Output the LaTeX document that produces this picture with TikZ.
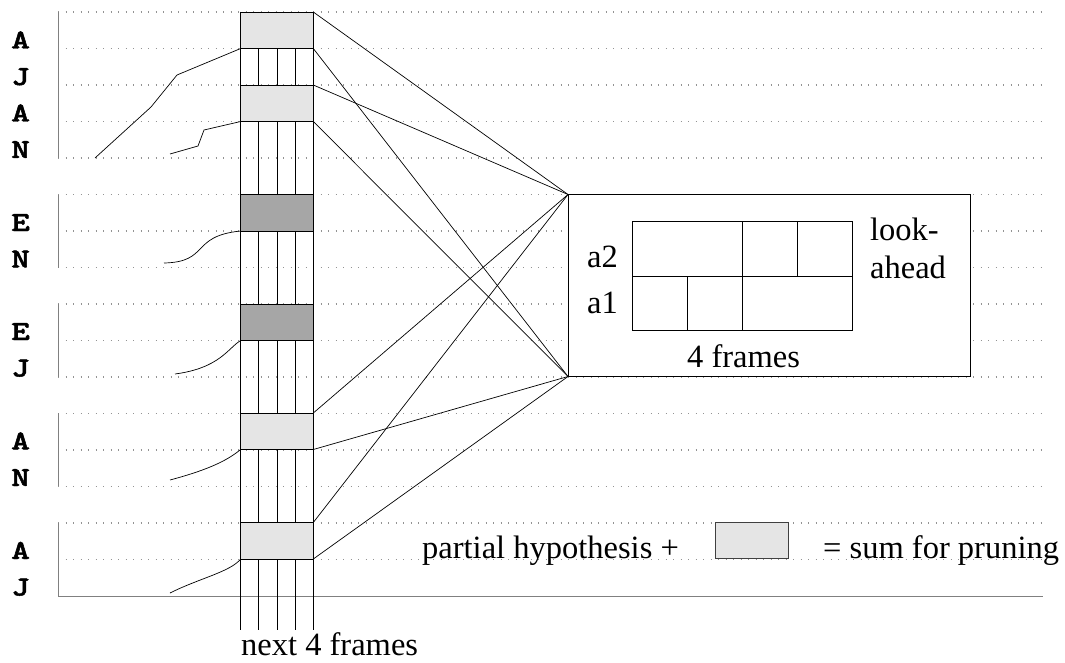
\documentclass[tikz,border=0pt]{standalone}
\usepackage{graphicx}
\usepackage{fontspec}
\setmainfont{Liberation Serif}
\newfontfamily\courfont{lmmonolt10-bold.otf}[FakeBold=1.5]
\definecolor{lightg}{HTML}{E5E5E5}
\definecolor{darkg}{HTML}{A6A6A6}
\newcommand{\letr}[1]{\scalebox{1.3}[1]{#1}}
\begin{document}
\begin{tikzpicture}[x=1bp,y=-1bp,
  dotl/.style={gray!85, line width=1.1bp, dash pattern=on 1.1bp off 6.4bp},
  grpl/.style={gray, line width=1bp},
  coll/.style={black, line width=0.8bp},
  cell/.style={draw=black, line width=0.8bp, minimum width=72.6bp, minimum height=36.5bp, inner sep=0pt, outer sep=0pt, anchor=north west},
  lite/.style={cell, fill=lightg},
  dark/.style={cell, fill=darkg},
  lett/.style={font=\courfont\fontsize{27.5bp}{30bp}\selectfont, anchor=base west, inner sep=0pt},
  serif/.style={font=\fontsize{32.5bp}{36bp}\selectfont, inner sep=0pt, anchor=base west},
  conn/.style={black, line width=0.7bp},
  hyp/.style={black, line width=0.7bp}
]
\useasboundingbox (0,0) rectangle (1065,663);
% row lines
\foreach \i in {0,...,15} \draw[dotl] (58,12+36.5*\i) -- (1043,12+36.5*\i);
\draw[grpl] (58,596) -- (1043,596);
% group brackets
\draw[grpl] (58,12) -- (58,158);
\draw[grpl] (58,194.5) -- (58,267.5);
\draw[grpl] (58,304) -- (58,376.5);
\draw[grpl] (58,413) -- (58,486);
\draw[grpl] (58,522.5) -- (58,596);
% column of next 4 frames
\foreach \x in {240.7,258.85,277,295.15,313.3} \draw[coll] (\x,12) -- (\x,630);
\node[lite] (b1) at (240.7,12) {};
\node[lite] (b2) at (240.7,85) {};
\node[dark] (b3) at (240.7,194.5) {};
\node[dark] (b4) at (240.7,304) {};
\node[lite] (b5) at (240.7,413) {};
\node[lite] (b6) at (240.7,522.5) {};
% look-ahead box
\node[draw=black, fill=white, line width=0.8bp, minimum width=402bp, minimum height=182bp, inner sep=0pt, outer sep=0pt, anchor=north west] (la) at (568,194.5) {};
% connectors
\draw[conn] (b1.north east) -- (la.north west);
\draw[conn] (b1.south east) -- (la.south west);
\draw[conn] (b2.north east) -- (la.north west);
\draw[conn] (b2.south east) -- (la.south west);
\draw[conn] (b5.north east) -- (la.north west);
\draw[conn] (b5.south east) -- (la.south west);
\draw[conn] (b6.north east) -- (la.north west);
\draw[conn] (b6.south east) -- (la.south west);
% inner grid
\draw[coll] (632,221.7) rectangle (852,330.7);
\draw[coll] (632,276) -- (852,276);
\draw[coll] (742,221.7) -- (742,330.7);
\draw[coll] (797,221.7) -- (797,276);
\draw[coll] (687,276) -- (687,330.7);
% texts in box
\node[serif] (a2) at (587,267) {a2};
\node[serif] (a1) at (587,313) {a1};
\node[serif] (look) at (870,240) {look-};
\node[serif] (ahead) at (870,278) {ahead};
\node[serif] (four) at (687,367) {4 frames};
\node[serif] (next) at (241,655) {next 4 frames};
% legend
\node[serif] (ph) at (422,558.5) {partial hypothesis +};
\node[draw=black!75, fill=lightg, line width=0.8bp, minimum width=73bp, minimum height=36bp, inner sep=0pt, outer sep=0pt, anchor=north west] (leg) at (715,522.5) {};
\node[serif] (sum) at (823,558.5) {= sum for pruning};
% letters
\node[lett] (l1) at (11,48.5) {\letr{A}};
\node[lett] (l2) at (11,85) {\letr{J}};
\node[lett] (l3) at (11,121.5) {\letr{A}};
\node[lett] (l4) at (11,158) {\letr{N}};
\node[lett] (l5) at (11,231) {\letr{E}};
\node[lett] (l6) at (11,267.5) {\letr{N}};
\node[lett] (l7) at (11,340) {\letr{E}};
\node[lett] (l8) at (11,376.5) {\letr{J}};
\node[lett] (l9) at (11,449.5) {\letr{A}};
\node[lett] (l10) at (11,486) {\letr{N}};
\node[lett] (l11) at (11,559) {\letr{A}};
\node[lett] (l12) at (11,595.5) {\letr{J}};
% partial hypotheses
\draw[hyp] (95,158) -- (151,107) -- (177,75) -- (b1.south west);
\draw[hyp] (170,154) -- (198,146) -- (204,130) -- (b2.south west);
\draw[hyp] (164,263) .. controls (210,262) and (190,236) .. (b3.south west);
\draw[hyp] (175,374) .. controls (220,368) and (228,348) .. (b4.south west);
\draw[hyp] (170,480) .. controls (215,468) and (230,458) .. (b5.south west);
\draw[hyp] (170,593) .. controls (200,578) and (230,572) .. (b6.south west);
\end{tikzpicture}
\end{document}
